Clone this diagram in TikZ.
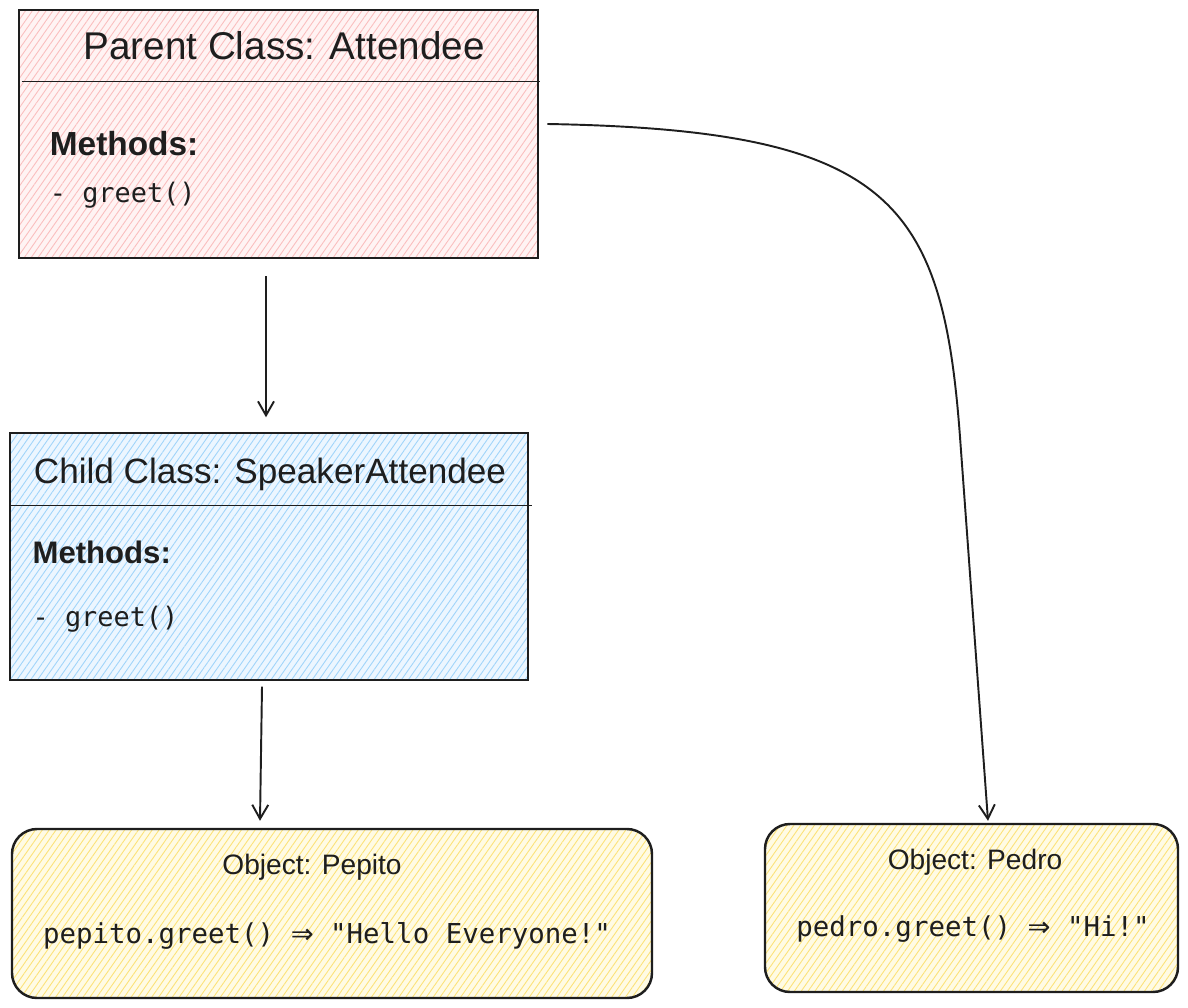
\documentclass[tikz,border=0pt]{standalone}
\usepackage{fontspec}
\setmainfont{Liberation Sans}
\newfontfamily\codefont{DejaVu Sans Mono}
\newfontfamily\arrfont{DejaVu Sans}
\newcommand{\yields}{{\arrfont ⇒}}
\usetikzlibrary{arrows.meta,positioning,calc,patterns.meta}
\definecolor{inkc}{RGB}{30,30,30}
\definecolor{pinkhatch}{RGB}{250,190,190}
\definecolor{pinkbg}{RGB}{255,243,243}
\definecolor{bluehatch}{RGB}{160,212,250}
\definecolor{bluebg}{RGB}{236,246,255}
\definecolor{yelhatch}{RGB}{252,226,120}
\definecolor{yelbg}{RGB}{255,251,228}
\tikzset{
  clsbox/.style={draw=inkc, line width=0.8pt, inner sep=0pt},
  objbox/.style={draw=inkc, line width=1.4pt, rounded corners=0.5cm, inner sep=0pt},
  hatch/.style 2 args={preaction={fill=#2}, pattern={Lines[angle=55,distance=3.2pt,line width=0.5pt]}, pattern color=#1},
  ttl/.style={font=\fontsize{22}{26}\selectfont, text=inkc, inner sep=0pt},
  mth/.style={font=\fontsize{19}{23}\selectfont\bfseries, text=inkc, inner sep=0pt},
  code/.style={font=\codefont\fontsize{15.3}{18}\selectfont, text=inkc, inner sep=0pt},
  olab/.style={font=\fontsize{16}{19}\selectfont, text=inkc, inner sep=0pt},
  sep/.style={inkc, line width=0.8pt},
  arr/.style={-{Straight Barb[length=2.8mm,width=3.2mm]}, inkc, line width=1.1pt},
}
\begin{document}
\begin{tikzpicture}[x=1cm,y=1cm]
\useasboundingbox (0,0) rectangle (23.76,-20.16);
\node[clsbox, hatch={pinkhatch}{pinkbg}, minimum width=10.38cm, minimum height=4.96cm] (parent) at (5.57,-2.68) {};
\draw[sep] ($(parent.north west)+(0.06,-1.44)$) -- ($(parent.north east)+(0.04,-1.44)$);
\node[ttl] (parentttl) at ($(parent.north)+(0.11,-0.72)$) {Parent Class: Attendee};
\node[mth, anchor=west] (parentmth) at ($(parent.north west)+(0.62,-2.68)$) {Methods:};
\node[code, anchor=west] (parentfn) at ($(parent.north west)+(0.62,-3.72)$) {- greet()};

\node[clsbox, hatch={bluehatch}{bluebg}, minimum width=10.36cm, minimum height=4.94cm] (child) at (5.38,-11.13) {};
\draw[sep] ($(child.north west)+(0.04,-1.46)$) -- ($(child.north east)+(0.06,-1.46)$);
\node[ttl, font=\fontsize{20}{24}\selectfont] (childttl) at ($(child.north)+(0.02,-0.84)$) {Child Class: SpeakerAttendee};
\node[mth, font=\fontsize{17.7}{21}\selectfont\bfseries, anchor=west] (childmth) at ($(child.north west)+(0.46,-2.40)$) {Methods:};
\node[code, anchor=west] (childfn) at ($(child.north west)+(0.46,-3.74)$) {- greet()};

\node[objbox, hatch={yelhatch}{yelbg}, minimum width=12.80cm, minimum height=3.38cm] (pepito) at (6.64,-18.27) {};
\node[olab] (pepitolab) at ($(pepito.north)+(-0.40,-0.78)$) {Object: Pepito};
\node[code, font=\codefont\fontsize{15.6}{19}\selectfont] (pepitofn) at ($(pepito.north)+(-0.10,-2.16)$) {pepito.greet() \yields{} "Hello Everyone!"};

\node[objbox, hatch={yelhatch}{yelbg}, minimum width=8.26cm, minimum height=3.36cm] (pedro) at (19.43,-18.16) {};
\node[olab] (pedrolab) at ($(pedro.north)+(0.07,-0.78)$) {Object: Pedro};
\node[code, font=\codefont\fontsize{15.6}{19}\selectfont] (pedrofn) at ($(pedro.north)+(0.03,-2.12)$) {pedro.greet() \yields{} "Hi!"};

\coordinate (pstart) at ($(parent.east)+(0.18,0.20)$);
\coordinate (pend) at ($(pedro.north)+(0.33,0.04)$);
\draw[arr] ($(parent.south)+(-0.25,-0.36)$) -- ($(child.north)+(-0.06,0.30)$);
\draw[arr] ($(child.south)+(-0.14,-0.12)$) -- ($(pepito.north)+(-1.44,0.14)$);
\draw[arr] (pstart) .. controls (17.8,-2.6) and (18.85,-4.0) .. (19.2,-8.74) -- (pend);
\end{tikzpicture}
\end{document}
